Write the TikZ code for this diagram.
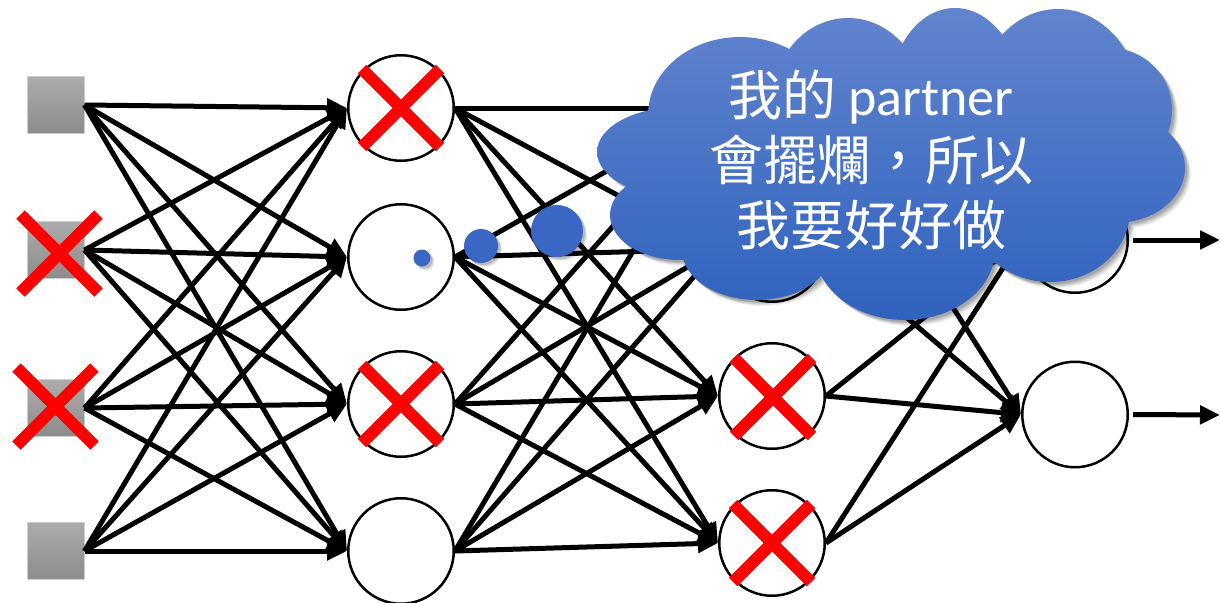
\documentclass[tikz,border=0pt]{standalone}
\usepackage{fontspec}
\newfontfamily\cjkfont{Noto Sans CJK TC}
\newfontfamily\latfont{Carlito}
\usetikzlibrary{arrows.meta}
\definecolor{cloudtop}{RGB}{98,132,206}
\definecolor{cloudbot}{RGB}{47,98,190}
\definecolor{dotblue}{RGB}{58,103,196}
\definecolor{xred}{RGB}{255,0,0}
\definecolor{boxtop}{RGB}{172,172,172}
\definecolor{boxbot}{RGB}{140,140,140}
\definecolor{boxline}{RGB}{205,205,205}
\newcommand\cloudshape{(740,115) ellipse [x radius=92pt, y radius=78pt]
 (848,100) ellipse [x radius=75pt, y radius=82pt]
 (955,95) ellipse [x radius=65pt, y radius=87pt]
 (1058,100) ellipse [x radius=80pt, y radius=91pt]
 (1110,110) ellipse [x radius=62pt, y radius=62pt]
 (1115,168) ellipse [x radius=70pt, y radius=55pt]
 (1050,210) ellipse [x radius=80pt, y radius=72pt]
 (905,250) ellipse [x radius=90pt, y radius=70pt]
 (757,250) ellipse [x radius=75pt, y radius=50pt]
 (680,215) ellipse [x radius=70pt, y radius=45pt]
 (680,152) ellipse [x radius=83pt, y radius=45pt]
 (890,165) ellipse [x radius=230pt, y radius=110pt]}
\newcommand\dotsshape{(422,258) circle [radius=8.5pt] (481,246) circle [radius=17pt] (557,231) circle [radius=26pt]}
\newcommand\xmark[1]{\draw[xline] (#1) ++(-39,-39) -- ++(78,78); \draw[xline] (#1) ++(-39,39) -- ++(78,-78);}
\tikzset{
  inbox/.style={rectangle, minimum size=57pt, inner sep=0pt, top color=boxtop, bottom color=boxbot, draw=boxline, line width=1pt},
  neuron/.style={circle, minimum size=105.5pt, inner sep=0pt, draw=black, fill=white, line width=2.5pt},
  edge/.style={line width=5pt, draw=black, -{Triangle[length=20pt,width=18pt]}},
  xline/.style={line width=12pt, draw=xred, line cap=butt},
  shadowlayer/.style={fill=black, opacity=#1},
}
\begin{document}
\begin{tikzpicture}[x=1pt,y=-1pt]
\fill[white] (0,0) rectangle (1220,602);
\useasboundingbox (0,0) rectangle (1220,602);
% input layer
\node[inbox] (i1) at (55.5,105) {};
\node[inbox] (i2) at (55.5,250) {};
\node[inbox] (i3) at (55.5,408) {};
\node[inbox] (i4) at (55.5,551) {};
% hidden layer 1
\node[neuron] (h1) at (401,108) {};
\node[neuron] (h2) at (401,257) {};
\node[neuron] (h3) at (401,404) {};
\node[neuron] (h4) at (401,551) {};
% hidden layer 2
\node[neuron] (g1) at (772,108) {};
\node[neuron] (g2) at (772,249) {};
\node[neuron] (g3) at (772,396) {};
\node[neuron] (g4) at (772,543) {};
% output layer
\node[neuron] (o1) at (1075,240) {};
\node[neuron] (o2) at (1075,414.5) {};
\coordinate (e1) at (1220,240);
\coordinate (e2) at (1220,415);
% connections
\foreach \a in {1,...,4}{
  \foreach \b in {1,...,4}{
    \draw[edge] (i\a.east) -- (h\b.west);
    \draw[edge] (h\a.east) -- (g\b.west);
  }
  \foreach \b in {1,2}{
    \draw[edge] (g\a.east) -- (o\b.west);
  }
}
\draw[edge] ([xshift=4pt]o1.east) -- (e1);
\draw[edge] ([xshift=4pt]o2.east) -- (e2);
% dropout marks
\xmark{[shift={(4,3.5)}]i2.center}
\xmark{[shift={(0,-1.5)}]i3.center}
\xmark{h1.center}
\xmark{h3.center}
\xmark{[shift={(1,1)}]g3.center}
\xmark{g4.center}
% thought dots with shadow
\foreach \d/\o in {4/0.08,3/0.1,2/0.12}{
  \fill[shadowlayer=\o, shift={(\d,\d)}] \dotsshape;
}
\fill[dotblue] \dotsshape;
% cloud with shadow
\foreach \d/\o in {6/0.06,5/0.07,4/0.08,3/0.1,2/0.1}{
  \fill[shadowlayer=\o, shift={(\d,\d)}] \cloudshape;
}
\shade[top color=cloudtop, bottom color=cloudbot] \cloudshape;
\node[text=white, align=center, inner sep=0pt, font=\fontsize{54pt}{65pt}\selectfont\cjkfont] (msg) at (871,160)
  {{\cjkfont 我的} {\latfont partner}\\會擺爛，所以\\我要好好做};
\end{tikzpicture}
\end{document}
